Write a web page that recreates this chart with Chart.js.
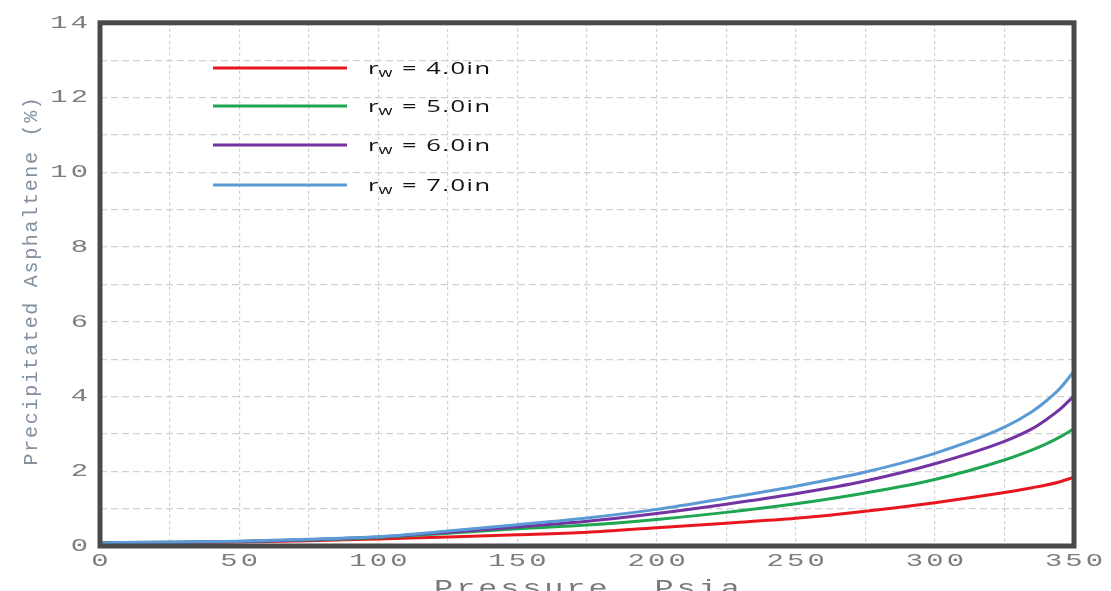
<!DOCTYPE html>
<html><head><meta charset="utf-8">
<script src="https://cdn.jsdelivr.net/npm/chart.js@4.4.1/dist/chart.umd.min.js"></script>
<style>html,body{margin:0;padding:0;background:#fff;overflow:hidden}canvas{display:block}</style>
</head><body>
<canvas id="c" width="1111" height="591"></canvas>
<script>
// ---- data ----
const pressure = [0, 25, 50, 75, 100, 125, 150, 175, 200, 225, 250, 275, 300, 325, 335, 340, 345, 350];
const rw40 = [0.08, 0.09, 0.11, 0.14, 0.19, 0.24, 0.30, 0.37, 0.49, 0.61, 0.74, 0.93, 1.16, 1.43, 1.56, 1.63, 1.72, 1.84];
const rw50 = [0.09, 0.10, 0.12, 0.16, 0.23, 0.34, 0.46, 0.56, 0.71, 0.90, 1.13, 1.42, 1.78, 2.30, 2.57, 2.73, 2.92, 3.14];
const rw60 = [0.09, 0.10, 0.12, 0.17, 0.24, 0.37, 0.51, 0.66, 0.87, 1.12, 1.40, 1.74, 2.20, 2.80, 3.14, 3.38, 3.66, 4.02];
const rw70 = [0.09, 0.10, 0.13, 0.18, 0.25, 0.40, 0.57, 0.75, 0.98, 1.28, 1.60, 1.98, 2.48, 3.18, 3.60, 3.88, 4.22, 4.68];
const radii = ['4.0in', '5.0in', '6.0in', '7.0in'];
const xTickLabels = [0, 50, 100, 150, 200, 250, 300, 350];
const yTickLabels = [0, 2, 4, 6, 8, 10, 12, 14];
const xTitle = 'Pressure, Psia';
const yTitle = 'Precipitated Asphaltene (%)';

const seriesValues = [rw40, rw50, rw60, rw70];
const colors = ['#e8161e', '#1fa650', '#7432a3', '#5b9bd5'];

const datasets = seriesValues.map((vals, i) => ({
  label: 'r_w = ' + radii[i],
  data: pressure.map((p, k) => ({x: p, y: vals[k]})),
  borderColor: colors[i],
  backgroundColor: colors[i],
  borderWidth: 3,
  pointRadius: 0,
  cubicInterpolationMode: 'monotone',
  order: seriesValues.length - 1 - i,
  fill: false
}));

// the reference lettering is horizontally stretched: s = letter spacing, k = horizontal stretch
const textCfg = {
  x: {labels: {s: 2, k: 1.6, dx: 1.6, dy: -2}, title: {s: 2, k: 1.45, dx: 1.4, dy: 11}},
  y: {labels: {s: 2, k: 1.6, dx: 3.2, dy: 0}, title: {s: 1.7, k: 1, dx: 0, dy: -4}}
};
function stretched(ctx, c, fn) {
  ctx.save();
  ctx.letterSpacing = c.s + 'px';
  ctx.translate(c.dx, c.dy);
  const orig = CanvasRenderingContext2D.prototype.fillText;
  ctx.fillText = function (t, x, y) {
    this.save(); this.translate(x, y); this.scale(c.k, 1);
    orig.call(this, t, 0, 0); this.restore();
  };
  try { fn(); } finally { delete ctx.fillText; ctx.restore(); }
}
const spacingPlugin = {
  id: 'spacing',
  beforeDraw(chart) {
    for (const id of ['x', 'y']) {
      const sc = chart.scales[id];
      if (!sc || sc._wrappedSpacing) continue;
      sc._wrappedSpacing = true;
      const c = textCfg[id];
      const ol = sc.drawLabels, ot = sc.drawTitle;
      sc.drawLabels = function (a) { stretched(this.ctx, c.labels, () => ol.call(this, a)); };
      sc.drawTitle = function () { stretched(this.ctx, c.title, () => ot.call(this)); };
    }
  }
};

const framePlugin = {
  id: 'frame',
  afterDatasetsDraw(chart) {
    const {ctx, chartArea: a} = chart;
    ctx.save();
    ctx.strokeStyle = '#4a4a4a';
    ctx.lineWidth = 5;
    ctx.strokeRect(a.left, a.top, a.right - a.left, a.bottom - a.top);
    ctx.restore();
  }
};

const legendPlugin = {
  id: 'rwLegend',
  afterDraw(chart) {
    const ctx = chart.ctx;
    const lx0 = 213, lx1 = 347, tx = 368, rowY = [68, 106, 145, 185], k = 1.5;
    ctx.save();
    chart.data.datasets.forEach((ds, i) => {
      const y = rowY[i];
      ctx.strokeStyle = ds.borderColor;
      ctx.lineWidth = 3;
      ctx.beginPath(); ctx.moveTo(lx0, y); ctx.lineTo(lx1, y); ctx.stroke();
      const parts = ds.label.split('_');          // ['r', 'w = 4.0in']
      const sub = parts[1].charAt(0);
      const rest = parts[1].slice(1);
      ctx.save();
      ctx.translate(tx, y + 6);
      ctx.scale(k, 1);
      ctx.fillStyle = '#111';
      ctx.textBaseline = 'alphabetic';
      ctx.textAlign = 'left';
      ctx.letterSpacing = '1px';
      ctx.font = '17px "Open Sans"';
      let x = 0;
      ctx.fillText(parts[0], x, 0);
      x += ctx.measureText(parts[0]).width - 1;
      ctx.font = '12px "Open Sans"';
      ctx.fillText(sub, x, 3);
      x += ctx.measureText(sub).width;
      ctx.font = '17px "Open Sans"';
      ctx.fillText(rest, x, 0);
      ctx.restore();
    });
    ctx.restore();
  }
};

const tickFont = {family: '"Liberation Mono", "DejaVu Sans Mono", monospace', size: 18};

new Chart(document.getElementById('c'), {
  type: 'line',
  data: {datasets},
  options: {
    responsive: false,
    animation: false,
    devicePixelRatio: 1,
    layout: {padding: {top: 19, right: 37, left: 0, bottom: 0}},
    plugins: {legend: {display: false}, tooltip: {enabled: false}},
    scales: {
      x: {
        type: 'linear', min: 0, max: 350,
        afterFit(s) { s.height = 45; },
        afterBuildTicks(s) { s.ticks = []; for (let v = 0; v <= 350; v += 25) s.ticks.push({value: v}); },
        ticks: {
          autoSkip: false, maxRotation: 0, padding: 6, color: '#7d7d7d', font: tickFont,
          callback: v => xTickLabels.includes(v) ? String(v) : ''
        },
        grid: {color: '#cfcfcf', lineWidth: 1.2, drawTicks: false},
        border: {display: false, dash: [3, 3]},
        title: {display: true, text: xTitle, color: '#7a7a7a', padding: 0,
          font: {family: '"Liberation Mono", "DejaVu Sans Mono", monospace', size: 22}}
      },
      y: {
        type: 'linear', min: 0, max: 14,
        afterFit(s) { s.width = 100; },
        afterBuildTicks(s) { s.ticks = []; for (let v = 0; v <= 14; v += 1) s.ticks.push({value: v}); },
        ticks: {
          autoSkip: false, padding: 12, color: '#7d7d7d', font: tickFont,
          callback: v => yTickLabels.includes(v) ? String(v) : ''
        },
        grid: {color: '#d2d2d2', lineWidth: 1.2, drawTicks: false},
        border: {display: false, dash: [7, 4]},
        title: {display: true, text: yTitle, color: '#8391a1', padding: {top: 20, bottom: 0},
          font: {family: '"Liberation Mono", "DejaVu Sans Mono", monospace', size: 20}}
      }
    }
  },
  plugins: [spacingPlugin, framePlugin, legendPlugin]
});
</script>
</body></html>
